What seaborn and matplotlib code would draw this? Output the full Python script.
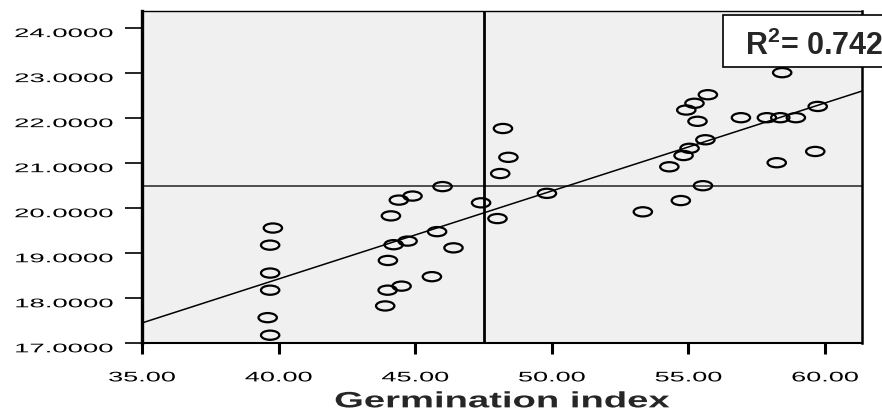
import matplotlib

matplotlib.use("Agg")

import seaborn
import matplotlib.pyplot as plt
from matplotlib.path import Path
from matplotlib.patches import Rectangle
from matplotlib.patheffects import AbstractPathEffect
from matplotlib.transforms import Affine2D
from pandas import DataFrame


germination = [
    39.79, 39.69, 39.69, 39.69, 39.60, 39.69,
    48.21, 48.41, 48.11, 46.00, 44.90, 44.40, 44.11, 47.41, 49.82, 48.01,
    45.80, 44.72, 44.21, 46.40,
    44.00, 45.61, 44.50, 43.99, 43.90,
    58.43, 55.71, 55.22, 54.92, 55.33, 59.73, 56.92, 57.87, 58.36, 58.93,
    55.62, 55.04, 54.82, 54.30, 59.64, 58.23, 55.53, 54.72, 53.33,
]
trait = [
    19.56, 19.18, 18.56, 18.18, 17.57, 17.18,
    21.77, 21.13, 20.77, 20.48, 20.27, 20.18, 19.83, 20.12, 20.33, 19.77,
    19.48, 19.27, 19.19, 19.12,
    18.84, 18.48, 18.27, 18.18, 17.83,
    23.01, 22.52, 22.33, 22.18, 21.93, 22.26, 22.01, 22.01, 22.01, 22.01,
    21.52, 21.33, 21.17, 20.92, 21.26, 21.01, 20.50, 20.17, 19.92,
]

x_ticks = [35, 40, 45, 50, 55, 60]
y_ticks = [17, 18, 19, 20, 21, 22, 23, 24]

# reference lines and fit statistic
x_ref = 47.5
y_ref = 20.5
r_squared = 0.742


class WideText(AbstractPathEffect):
    """Stretch text sideways (the SPSS export is horizontally stretched)."""

    def __init__(self, factor, anchor="center"):
        super().__init__()
        self.factor = factor
        self.anchor = anchor

    def draw_path(self, renderer, gc, tpath, affine, rgbFace=None):
        ext = tpath.get_extents()
        cx = {"left": ext.x0, "center": (ext.x0 + ext.x1) / 2.0, "right": ext.x1}[self.anchor]
        stretch = Affine2D().translate(-cx, 0).scale(self.factor, 1.0).translate(cx, 0)
        renderer.draw_path(gc, tpath, stretch + affine, rgbFace)


seaborn.set_theme(style="ticks")
plt.rcParams["font.family"] = ["Liberation Sans", "DejaVu Sans"]
plt.rcParams["mathtext.fontset"] = "custom"
plt.rcParams["mathtext.rm"] = "Liberation Sans"
plt.rcParams["mathtext.bf"] = "Liberation Sans:bold"

df = DataFrame({"germination": germination, "trait": trait})

fig = plt.figure(figsize=(8.82, 4.17), dpi=100)
ax = fig.add_axes([0.161, 0.1767, 0.8163, 0.797])
ax.set_facecolor("#f0f0f0")
xlim = (35.0, 61.35)
ylim = (17.0, 24.38)
ax.set(xlim=xlim, ylim=ylim)

# reference lines
ax.axhline(y_ref, color="#333333", linewidth=1.2, zorder=1)
ax.axvline(x_ref, color="black", linewidth=2.0, zorder=1)

# open, flattened rings as markers
circle = Path.unit_circle()
ring = Path(Affine2D().scale(1.0, 0.5).transform(circle.vertices), circle.codes)

seaborn.scatterplot(
    data=df, x="germination", y="trait", marker=ring, s=175,
    facecolor="none", edgecolor="black", linewidth=1.6, ax=ax, zorder=3,
)
seaborn.regplot(
    data=df, x="germination", y="trait", scatter=False, ci=None, truncate=False,
    line_kws=dict(color="black", linewidth=1.1), ax=ax,
)
ax.set(xlim=xlim, ylim=ylim)

# spines
for side, lw in {"left": 2.4, "bottom": 1.5, "top": 1.0, "right": 1.8}.items():
    ax.spines[side].set_visible(True)
    ax.spines[side].set_linewidth(lw)
    ax.spines[side].set_color("black")

# ticks
ax.set_xticks(x_ticks, [f"{t:.2f}" for t in x_ticks])
ax.set_yticks(y_ticks, [f"{t:.4f}" for t in y_ticks])
ax.tick_params(axis="x", length=8, width=2.2, pad=11.5, labelsize=10, colors="black", direction="out")
ax.tick_params(axis="y", length=12.5, width=1.2, pad=8.3, labelsize=9, colors="black", direction="out")

ax.set_ylabel("")
ax.set_xlabel(
    "Germination index", fontsize=16, fontweight="bold", labelpad=5,
    path_effects=[WideText(1.72)],
)

# R^2 box in the top-right corner
fig.add_artist(
    Rectangle(
        (723 / 882, 1 - 67 / 417), 0.2, 52 / 417, transform=fig.transFigure,
        facecolor="white", edgecolor="black", linewidth=1.2,
    )
)
fig.text(
    745 / 882, 1 - 55 / 417, f"$\\mathbf{{R^2}}$= {r_squared:.3f}",
    fontsize=22, fontweight="bold", va="baseline",
)

# tick labels: wide glyphs, y labels hang below their tick
fig.canvas.draw()
for lbl in ax.get_xticklabels():
    lbl.set_path_effects([WideText(1.95)])
for lbl in ax.get_yticklabels():
    lbl.set_verticalalignment("top")
    lbl.set_path_effects([WideText(2.2, anchor="right")])

fig.savefig("out.png", dpi=100)
